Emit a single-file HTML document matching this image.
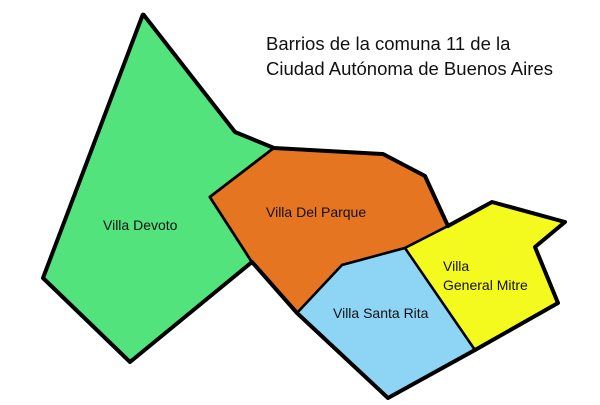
<!DOCTYPE html>
<html><head><style>
html,body{margin:0;padding:0;background:#fff;}
svg text{font-family:"Liberation Sans",sans-serif;fill:#111;}
</style></head><body>
<svg width="600" height="400" viewBox="0 0 600 400" xmlns="http://www.w3.org/2000/svg">
<g stroke="#000" stroke-linejoin="round">
<polygon points="143,14 235,132 274,148 210,197 252,262 130,362 43,278" fill="#53e37d" stroke-width="3"/>
<polygon points="274,148 383,154 425,176 448,226 405,248 342,265 297,313 252,262 210,197" fill="#e67522" stroke-width="2.5"/>
<polygon points="342,265 405,248 475,350 388,398 297,313" fill="#8ed5f5" stroke-width="2.5"/>
<polygon points="405,248 448,226 492,202 565,222 535,247 558,303 475,350" fill="#f5fa1e" stroke-width="2.5"/>
</g>
<polyline points="143,14 235,132 274,148 383,154 425,176 448,226 492,202 565,222 535,247 558,303 475,350 388,398 297,313 252,262 130,362 43,278 143,14" fill="none" stroke="#000" stroke-width="4" stroke-linejoin="round"/>
<text x="266" y="50" font-size="18.5">Barrios de la comuna 11 de la</text>
<text x="266" y="75" font-size="18.5">Ciudad Autónoma de Buenos Aires</text>
<text x="103" y="230" font-size="14">Villa Devoto</text>
<text x="266" y="217" font-size="14">Villa Del Parque</text>
<text x="333" y="318" font-size="14">Villa Santa Rita</text>
<text x="443" y="271" font-size="14">Villa</text>
<text x="443" y="290" font-size="14">General Mitre</text>
</svg>
</body></html>
